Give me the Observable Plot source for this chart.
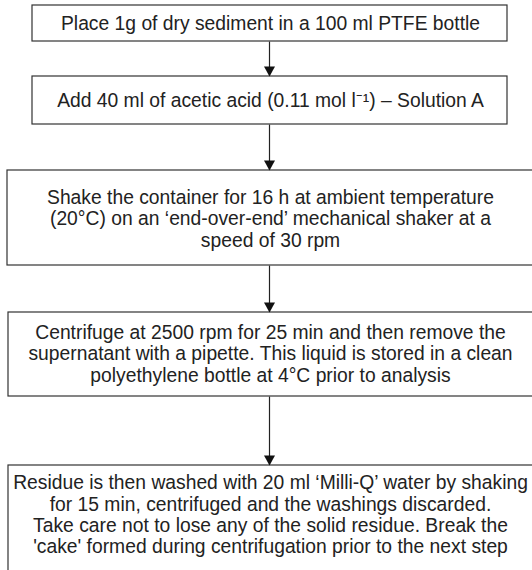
<!DOCTYPE html>
<html>
<head>
<meta charset="utf-8">
<script src="https://cdn.jsdelivr.net/npm/d3@7"></script>
<script src="https://cdn.jsdelivr.net/npm/@observablehq/plot@0.6"></script>
<style>
  html, body { margin: 0; padding: 0; background: white; overflow: hidden; }
  #chart svg { display: block; overflow: hidden; }
</style>
</head>
<body>
<div id="chart"></div>
<script>
// Flowchart steps (text of each box)
const steps = [
  "Place 1g of dry sediment in a 100 ml PTFE bottle",
  "Add 40 ml of acetic acid (0.11 mol l\u207B\u00B9) \u2013 Solution A",
  "Shake the container for 16 h at ambient temperature\n(20\u00B0C) on an \u2018end-over-end\u2019 mechanical shaker at a\nspeed of 30 rpm",
  "Centrifuge at 2500 rpm for 25 min and then remove the\nsupernatant with a pipette. This liquid is stored in a clean\npolyethylene bottle at 4\u00B0C prior to analysis",
  "Residue is then washed with 20 ml \u2018Milli-Q\u2019 water by shaking\nfor 15 min, centrifuged and the washings discarded.\nTake care not to lose any of the solid residue. Break the\n'cake' formed during centrifugation prior to the next step"
];
// Box extents (diagram units = pixels of the original)
const boxTop    = [5, 76, 170, 312, 465];
const boxBottom = [41, 124, 265, 396, 580];
const boxLeft   = [32, 32, 7, 8, 8];
const boxRight  = [507, 507, 545, 545, 545];
const textMid   = [23, 100, 218, 353, 514];
const flowX = 269;

const boxes = steps.map((text, i) => ({
  text, top: boxTop[i], bottom: boxBottom[i], left: boxLeft[i], right: boxRight[i], mid: textMid[i]
}));
const links = boxes.slice(1).map((b, i) => ({from: boxes[i].bottom, to: b.top}));

// Filled arrowhead whose tip is at the anchor point
const arrowHead = {
  draw(context) {
    const w = 5.5, h = 10;
    context.moveTo(0, 0);
    context.lineTo(-w, -h);
    context.lineTo(w, -h);
    context.closePath();
  }
};

const chart = Plot.plot({
  width: 532,
  height: 570,
  margin: 0,
  x: {domain: [0, 532], axis: null},
  y: {domain: [0, 570], reverse: true, axis: null},
  style: {fontFamily: "'Liberation Sans', Arial, sans-serif", background: "white"},
  marks: [
    Plot.link(links, {x1: () => flowX, x2: () => flowX, y1: "from", y2: "to", stroke: "#222", strokeWidth: 1.2}),
    Plot.rect(boxes, {x1: "left", x2: "right", y1: "top", y2: "bottom", fill: "white", stroke: "#333", strokeWidth: 1.2}),
    Plot.dot(links, {x: () => flowX, y: "to", symbol: arrowHead, r: 5, fill: "#111", stroke: "none"}),
    Plot.text(boxes, {
      x: () => flowX + 1, y: "mid", text: "text",
      fontSize: 19.3, lineHeight: 1.105, fill: "#222",
      fontFamily: "'Liberation Sans', Arial, sans-serif",
      textAnchor: "middle", lineAnchor: "middle"
    })
  ]
});
document.getElementById("chart").appendChild(chart);
</script>
</body>
</html>
